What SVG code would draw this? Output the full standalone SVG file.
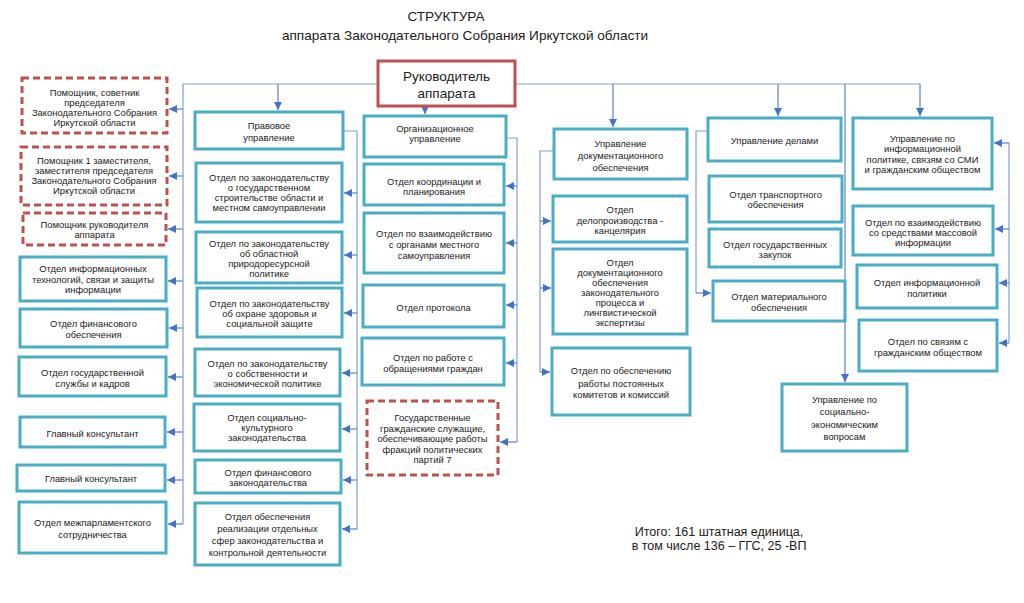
<svg xmlns="http://www.w3.org/2000/svg" width="1024" height="603" viewBox="0 0 1024 603">
<style>
.b{fill:#fff;stroke:#4bacc6;stroke-width:3}
.d{fill:#fff;stroke:#c0504d;stroke-width:3;stroke-dasharray:7 4}
.r{fill:#fff;stroke:#c0504d;stroke-width:3}
.t{font-family:"Liberation Sans",Arial,sans-serif;font-size:9.4px;fill:#1a1a1a;text-anchor:middle}
.h{font-family:"Liberation Sans",Arial,sans-serif;font-size:13.6px;fill:#1a1a1a;text-anchor:middle}
.c{fill:none;stroke:#7f9fd4;stroke-width:1.2}
.a{fill:none;stroke:#5b84c6;stroke-width:1.2;marker-end:url(#ah)}
</style>
<defs>
<marker id="ah" viewBox="0 0 10 10" refX="10" refY="5" markerWidth="8" markerHeight="8" markerUnits="userSpaceOnUse" orient="auto">
<path d="M0,0 L10,5 L0,10 z" fill="#4472c4"/>
</marker>
</defs>
<rect width="1024" height="603" fill="#fff"/>
<g id="title">
<text class="h" x="446" y="21">СТРУКТУРА</text>
<text class="h" x="465" y="40">аппарата Законодательного Собрания Иркутской области</text>
</g>
<g id="connectors">
<path class="c" d="M183,84 H920"/>
<path class="c" d="M183,84 V524"/>
<path class="a" d="M183,109 H169"/>
<path class="a" d="M183,176 H169"/>
<path class="a" d="M183,229 H168"/>
<path class="a" d="M183,281 H168"/>
<path class="a" d="M183,328 H169"/>
<path class="a" d="M183,377 H168"/>
<path class="a" d="M183,432 H167"/>
<path class="a" d="M183,480 H167"/>
<path class="a" d="M183,524 H168"/>
<path class="a" d="M278,84 V110"/>
<path class="c" d="M343,131 H357 V529"/>
<path class="a" d="M357,193 H344"/>
<path class="a" d="M357,255 H344"/>
<path class="a" d="M357,313 H344"/>
<path class="a" d="M357,373 H342"/>
<path class="a" d="M357,429 H342"/>
<path class="a" d="M357,480 H343"/>
<path class="a" d="M357,529 H342"/>
<path class="a" d="M425,107 V114"/>
<path class="c" d="M506,138 H517 V442"/>
<path class="a" d="M517,186 H506"/>
<path class="a" d="M517,243 H506"/>
<path class="a" d="M517,305 H506"/>
<path class="a" d="M517,363 H506"/>
<path class="a" d="M517,442 H500"/>
<path class="a" d="M613,84 V127"/>
<path class="c" d="M554,151 H540 V372"/>
<path class="a" d="M540,221 H551"/>
<path class="a" d="M540,288 H551"/>
<path class="a" d="M540,372 H550"/>
<path class="a" d="M778,84 V116"/>
<path class="c" d="M708,131 H696 V293"/>
<path class="a" d="M696,293 H711"/>
<path class="a" d="M920,84 V116"/>
<path class="c" d="M1009,143 V343"/>
<path class="a" d="M1009,143 H994"/>
<path class="a" d="M1009,229 H995"/>
<path class="a" d="M1009,283 H999"/>
<path class="a" d="M1009,343 H999"/>
<path class="a" d="M845,84 V382"/>
</g>
<g id="head">
<rect class="r" x="378" y="61" width="137" height="45"/>
<text class="h" x="446.5" y="81" style="font-size:13.5px">Руководитель</text>
<text class="h" x="446.5" y="98" style="font-size:13.5px">аппарата</text>
</g>
<g id="l1"><rect class="d" x="22" y="78" width="145" height="55"/>
<text class="t" x="94.5" y="95.5">Помощник, советник</text><text class="t" x="94.5" y="105.5">председателя</text><text class="t" x="94.5" y="115.5">Законодательного Собрания</text><text class="t" x="94.5" y="125.5">Иркутской области</text></g>
<g id="l2"><rect class="d" x="21" y="147" width="146" height="58"/>
<text class="t" x="94" y="164">Помощник 1 заместителя,</text><text class="t" x="94" y="174">заместителя председателя</text><text class="t" x="94" y="184">Законодательного Собрания</text><text class="t" x="94" y="194">Иркутской области</text></g>
<g id="l3"><rect class="d" x="23" y="213" width="143" height="32"/>
<text class="t" x="94.5" y="227.5">Помощник руководителя</text><text class="t" x="94.5" y="237.5">аппарата</text></g>
<g id="l4"><rect class="b" x="20" y="257" width="146" height="44"/>
<text class="t" x="93" y="272">Отдел информационных</text><text class="t" x="93" y="283">технологий, связи и защиты</text><text class="t" x="93" y="293">информации</text></g>
<g id="l5"><rect class="b" x="20" y="309" width="147" height="38"/>
<text class="t" x="93.5" y="326.5">Отдел финансового</text><text class="t" x="93.5" y="337.5">обеспечения</text></g>
<g id="l6"><rect class="b" x="19" y="357" width="147" height="39"/>
<text class="t" x="92.5" y="376">Отдел государственной</text><text class="t" x="92.5" y="386.5">службы и кадров</text></g>
<g id="l7"><rect class="b" x="20" y="417" width="145" height="30"/>
<text class="t" x="92.5" y="436.5">Главный консультант</text></g>
<g id="l8"><rect class="b" x="17" y="465" width="148" height="26"/>
<text class="t" x="91" y="481.5">Главный консультант</text></g>
<g id="l9"><rect class="b" x="19" y="502" width="147" height="51"/>
<text class="t" x="92.5" y="525.5">Отдел межпарламентского</text><text class="t" x="92.5" y="537.5">сотрудничества</text></g>
<g id="p0"><rect class="b" x="195" y="112" width="148" height="37"/>
<text class="t" x="269" y="129">Правовое</text><text class="t" x="269" y="140.5">управление</text></g>
<g id="p1"><rect class="b" x="196" y="163" width="146" height="59"/>
<text class="t" x="269" y="180.5">Отдел по законодательству</text><text class="t" x="269" y="190.5">о государственном</text><text class="t" x="269" y="200.5">строительстве области и</text><text class="t" x="269" y="210.5">местном самоуправлении</text></g>
<g id="p2"><rect class="b" x="196" y="232" width="146" height="51"/>
<text class="t" x="269" y="246.5">Отдел по законодательству</text><text class="t" x="269" y="256.5">об областной</text><text class="t" x="269" y="266.5">природоресурсной</text><text class="t" x="269" y="276.5">политике</text></g>
<g id="p3"><rect class="b" x="197" y="288" width="145" height="49"/>
<text class="t" x="269.5" y="306.5">Отдел по законодательству</text><text class="t" x="269.5" y="316.5">об охране здоровья и</text><text class="t" x="269.5" y="326.5">социальной защите</text></g>
<g id="p4"><rect class="b" x="195" y="349" width="145" height="47"/>
<text class="t" x="267.5" y="366.5">Отдел по законодательству</text><text class="t" x="267.5" y="376.5">о собственности и</text><text class="t" x="267.5" y="386.5">экономической политике</text></g>
<g id="p5"><rect class="b" x="194" y="404" width="146" height="47"/>
<text class="t" x="267" y="420.5">Отдел социально-</text><text class="t" x="267" y="431">культурного</text><text class="t" x="267" y="441">законодательства</text></g>
<g id="p6"><rect class="b" x="195" y="460" width="146" height="33"/>
<text class="t" x="268" y="475.5">Отдел финансового</text><text class="t" x="268" y="485.5">законодательства</text></g>
<g id="p7"><rect class="b" x="195" y="503" width="145" height="62"/>
<text class="t" x="267.5" y="519.5">Отдел обеспечения</text><text class="t" x="267.5" y="531.5">реализации отдельных</text><text class="t" x="267.5" y="543.5">сфер законодательства и</text><text class="t" x="267.5" y="555.5">контрольной деятельности</text></g>
<g id="o0"><rect class="b" x="364" y="116" width="142" height="41"/>
<text class="t" x="435" y="131.5">Организационное</text><text class="t" x="435" y="142">управление</text></g>
<g id="o1"><rect class="b" x="364" y="164" width="140" height="41"/>
<text class="t" x="434" y="184.5">Отдел координации и</text><text class="t" x="434" y="194.5">планирования</text></g>
<g id="o2"><rect class="b" x="364" y="213" width="140" height="60"/>
<text class="t" x="434" y="236.5">Отдел по взаимодействию</text><text class="t" x="434" y="247.5">с органами местного</text><text class="t" x="434" y="258.5">самоуправления</text></g>
<g id="o3"><rect class="b" x="363" y="285" width="141" height="42"/>
<text class="t" x="433.5" y="310.5">Отдел протокола</text></g>
<g id="o4"><rect class="b" x="362" y="338" width="142" height="47"/>
<text class="t" x="433" y="360.5">Отдел по работе с</text><text class="t" x="433" y="371.5">обращениями граждан</text></g>
<g id="o5"><rect class="d" x="367" y="401" width="131" height="74"/>
<text class="t" x="432.5" y="420.5">Государственные</text><text class="t" x="432.5" y="431.5">гражданские служащие,</text><text class="t" x="432.5" y="442">обеспечивающие работы</text><text class="t" x="432.5" y="452.5">фракций политических</text><text class="t" x="432.5" y="463">партий 7</text></g>
<g id="d0"><rect class="b" x="554" y="129" width="133" height="50"/>
<text class="t" x="620.5" y="146.5">Управление</text><text class="t" x="620.5" y="158.5">документационного</text><text class="t" x="620.5" y="170.5">обеспечения</text></g>
<g id="d1"><rect class="b" x="553" y="196" width="134" height="46"/>
<text class="t" x="620" y="212.5">Отдел</text><text class="t" x="620" y="223.5">делопроизводства -</text><text class="t" x="620" y="233.5">канцелярия</text></g>
<g id="d2"><rect class="b" x="553" y="249" width="134" height="85"/>
<text class="t" x="620" y="265.5">Отдел</text><text class="t" x="620" y="275.5">документационного</text><text class="t" x="620" y="285.5">обеспечения</text><text class="t" x="620" y="295.5">законодательного</text><text class="t" x="620" y="305.5">процесса и</text><text class="t" x="620" y="315.5">лингвистической</text><text class="t" x="620" y="325.5">экспертизы</text></g>
<g id="d3"><rect class="b" x="552" y="348" width="138" height="67"/>
<text class="t" x="621" y="373.5">Отдел по обеспечению</text><text class="t" x="621" y="386.5">работы  постоянных</text><text class="t" x="621" y="397.5">комитетов и комиссий</text></g>
<g id="u0"><rect class="b" x="708" y="118" width="133" height="43"/>
<text class="t" x="774.5" y="143.5">Управление делами</text></g>
<g id="u1"><rect class="b" x="709" y="176" width="133" height="46"/>
<text class="t" x="775.5" y="197.5">Отдел транспортного</text><text class="t" x="775.5" y="207.5">обеспечения</text></g>
<g id="u2"><rect class="b" x="709" y="229" width="132" height="38"/>
<text class="t" x="775" y="247.5">Отдел государственных</text><text class="t" x="775" y="257.5">закупок</text></g>
<g id="u3"><rect class="b" x="713" y="281" width="132" height="40"/>
<text class="t" x="779" y="299.5">Отдел материального</text><text class="t" x="779" y="310.5">обеспечения</text></g>
<g id="i0"><rect class="b" x="853" y="118" width="139" height="71"/>
<text class="t" x="922.5" y="141.5">Управление по</text><text class="t" x="922.5" y="152">информационной</text><text class="t" x="922.5" y="162.5">политике, связям со СМИ</text><text class="t" x="922.5" y="172.5">и гражданским обществом</text></g>
<g id="i1"><rect class="b" x="853" y="206" width="140" height="49"/>
<text class="t" x="923" y="225.5">Отдел по взаимодействию</text><text class="t" x="923" y="235.5">со средствами массовой</text><text class="t" x="923" y="245.5">информации</text></g>
<g id="i2"><rect class="b" x="857" y="265" width="140" height="43"/>
<text class="t" x="927" y="285.5">Отдел информационной</text><text class="t" x="927" y="296.5">политики</text></g>
<g id="i3"><rect class="b" x="859" y="320" width="138" height="51"/>
<text class="t" x="928" y="344.5">Отдел по связям с</text><text class="t" x="928" y="355.5">гражданским обществом</text></g>
<g id="s0"><rect class="b" x="782" y="384" width="125" height="67"/>
<text class="t" x="844.5" y="402.5">Управление по</text><text class="t" x="844.5" y="415">социально-</text><text class="t" x="844.5" y="427.5">экономическим</text><text class="t" x="844.5" y="440">вопросам</text></g>
<g id="total">
<text class="h" x="719" y="536" style="font-size:12.5px">Итого: 161 штатная единица,</text>
<text class="h" x="719" y="550" style="font-size:12.5px">в том числе 136 – ГГС, 25 -ВП</text>
</g>
</svg>
